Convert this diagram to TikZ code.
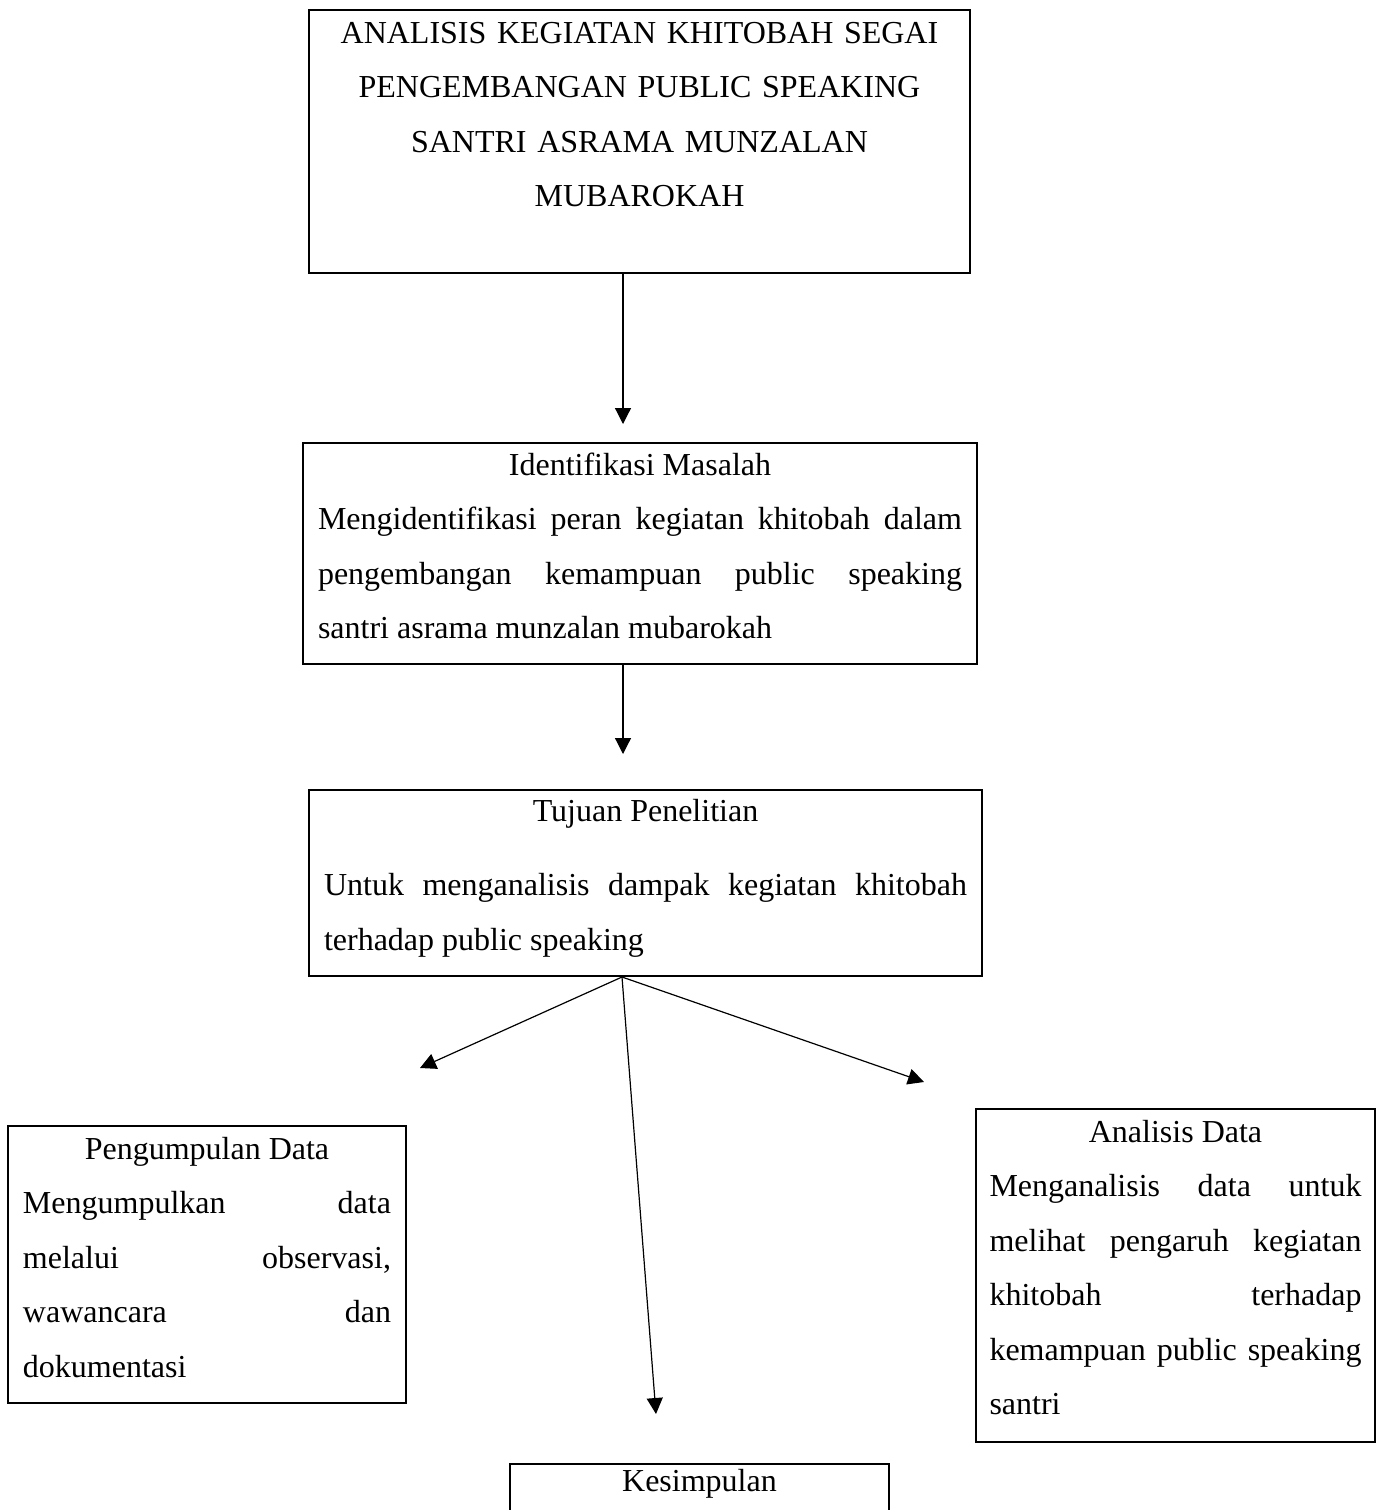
\documentclass[tikz,border=0pt]{standalone}
\usepackage{fontspec}
\setmainfont{Liberation Serif}
\usetikzlibrary{arrows.meta}
\tolerance=10000
\hyphenpenalty=10000
\begin{document}
\begin{tikzpicture}[x=0.5pt,y=-0.5pt,
        box/.style={draw=black,line width=1pt,rectangle,inner xsep=7.5pt,inner ysep=0pt,align=justify,font=\fontsize{16}{27.25}\selectfont},
        lift/.style={execute at end node={\endgraf\kern#1}},
        arr/.style={-{Triangle[length=8pt,width=8pt]},line width=0.6pt}
      ]
      \useasboundingbox (0,0) rectangle (1379,1510);
      \node[box,align=center,text width=315.5pt,minimum height=131.5pt] (title) at (639.5,141.5)
        {ANALISIS KEGIATAN KHITOBAH SEGAI\\PENGEMBANGAN PUBLIC SPEAKING\\SANTRI ASRAMA MUNZALAN\\MUBAROKAH\\ \mbox{}};
      \node[box,lift=7.5pt,text width=322pt,minimum height=110.5pt] (ident) at (640,553.5)
        {{\centering Identifikasi Masalah\par}
         Mengidentifikasi peran kegiatan khitobah dalam\linebreak
         pengembangan kemampuan public speaking\linebreak
         santri asrama munzalan mubarokah};
      \node[box,lift=5pt,text width=321.5pt,minimum height=93pt] (tujuan) at (645.5,883)
        {{\centering Tujuan Penelitian\par}\vspace{10pt}
         Untuk menganalisis dampak kegiatan khitobah\linebreak
         terhadap public speaking};
      \node[box,lift=7pt,text width=184pt,minimum height=138.5pt] (kumpul) at (207,1264.5)
        {{\centering Pengumpulan Data\par}
         Mengumpulkan data\linebreak
         melalui observasi,\linebreak
         wawancara dan\linebreak
         dokumentasi};
      \node[box,lift=8pt,inner xsep=6.75pt,text width=186pt,minimum height=166.5pt] (analisis) at (1175.5,1275.5)
        {{\centering Analisis Data\par}
         Menganalisis data untuk\linebreak
         melihat pengaruh kegiatan\linebreak
         khitobah terhadap\linebreak
         kemampuan public speaking\linebreak
         santri};
      \node[box,align=center,minimum width=189.5pt,text height=13.5pt,text depth=40pt,anchor=north] (simpul) at (699.5,1463) {Kesimpulan};

      % arrow ends
      \coordinate (t1) at (623,424);
      \coordinate (t2) at (623,754);
      \coordinate (fan) at (622,976);
      \coordinate (tkumpul) at (420,1068);
      \coordinate (tanalisis) at (924,1082);
      \coordinate (tsimpul) at (656,1414);

      \draw[arr] (title.south -| t1) -- (t1);
      \draw[arr] (ident.south -| t2) -- (t2);
      \draw[arr] (tujuan.south -| fan) -- (tkumpul);
      \draw[arr] (tujuan.south -| fan) -- (tanalisis);
      \draw[arr] (tujuan.south -| fan) -- (tsimpul);
    \end{tikzpicture}
\end{document}
